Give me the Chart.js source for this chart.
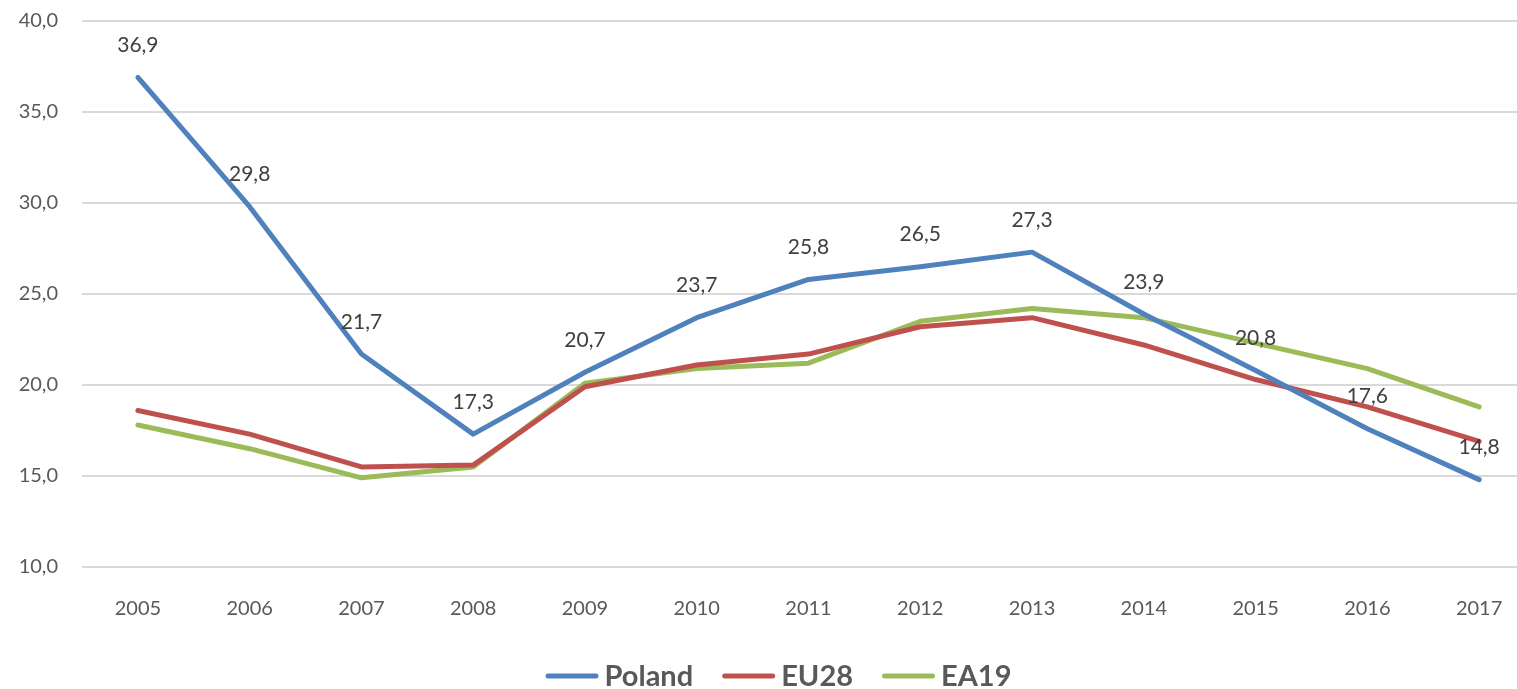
<!DOCTYPE html>
<html>
<head>
<meta charset="utf-8">
<script src="https://cdn.jsdelivr.net/npm/chart.js@4"></script>
<style>
html,body{margin:0;padding:0;background:#fff;overflow:hidden;}
#wrap{position:absolute;left:0;top:-15px;width:1535px;height:704px;}
</style>
</head>
<body>
<div id="wrap"><canvas id="c"></canvas></div>
<script>
const years = ['2005','2006','2007','2008','2009','2010','2011','2012','2013','2014','2015','2016','2017'];
const poland = [36.9,29.8,21.7,17.3,20.7,23.7,25.8,26.5,27.3,23.9,20.8,17.6,14.8];
const eu28 = [18.6,17.3,15.5,15.6,19.9,21.1,21.7,23.2,23.7,22.2,20.3,18.8,16.9];
const ea19 = [17.8,16.5,14.9,15.5,20.1,20.9,21.2,23.5,24.2,23.7,22.3,20.9,18.8];
const seriesNames = ['Poland','EU28','EA19'];
const colors = ['#4F81BD','#C0504D','#9BBB59'];

const fmt = v => v.toFixed(1).replace('.', ',');
const FONT = 'Lato, "Open Sans", sans-serif';

const labelPlugin = {
  id: 'pointLabels',
  afterDatasetsDraw(chart) {
    const ctx = chart.ctx;
    const meta = chart.getDatasetMeta(0);
    ctx.save();
    ctx.font = '21px ' + FONT;
    ctx.fillStyle = '#404040';
    ctx.textAlign = 'center';
    ctx.textBaseline = 'middle';
    meta.data.forEach((pt, i) => {
      ctx.fillText(fmt(poland[i]), pt.x, pt.y - 32);
    });
    ctx.restore();
  }
};

const legendPlugin = {
  id: 'customLegend',
  afterDraw(chart) {
    const ctx = chart.ctx;
    ctx.save();
    ctx.font = 'bold 29px ' + FONT;
    const lineW = 53, gapText = 6, gapItem = 29;
    const widths = seriesNames.map(n => ctx.measureText(n).width);
    let total = widths.reduce((a, w) => a + lineW + gapText + w, 0) + gapItem * (seriesNames.length - 1);
    let x = chart.width / 2 + 11 - total / 2;
    const y = 691;
    ctx.textBaseline = 'middle';
    ctx.textAlign = 'left';
    seriesNames.forEach((n, i) => {
      ctx.strokeStyle = colors[i];
      ctx.lineWidth = 5;
      ctx.lineCap = 'round';
      ctx.beginPath();
      ctx.moveTo(x + 2.5, y);
      ctx.lineTo(x + lineW - 2.5, y);
      ctx.stroke();
      ctx.fillStyle = '#595959';
      ctx.fillText(n, x + lineW + gapText, y + 1);
      x += lineW + gapText + widths[i] + gapItem;
    });
    ctx.restore();
  }
};

const mk = (name, data, color) => ({
  label: name, data: data, borderColor: color, backgroundColor: color,
  borderWidth: 5, pointRadius: 0, tension: 0, borderCapStyle: 'round', borderJoinStyle: 'round'
});

new Chart(document.getElementById('c'), {
  type: 'line',
  data: {
    labels: years,
    datasets: [mk(seriesNames[0], poland, colors[0]), mk(seriesNames[1], eu28, colors[1]), mk(seriesNames[2], ea19, colors[2])]
  },
  plugins: [labelPlugin, legendPlugin],
  options: {
    responsive: true,
    maintainAspectRatio: false,
    animation: false,
    layout: { padding: { top: 0, left: 0, right: 0, bottom: 38 } },
    plugins: {
      tooltip: { enabled: false },
      legend: { display: false }
    },
    scales: {
      x: {
        offset: true,
        grid: { display: false, drawTicks: false },
        border: { display: false },
        ticks: { color: '#595959', padding: 30, font: { family: FONT, size: 20 } }
      },
      y: {
        min: 10, max: 40,
        afterFit: s => { s.width = 82; },
        grid: { color: '#D9D9D9', lineWidth: 2, drawTicks: false },
        border: { display: false },
        ticks: { stepSize: 5, color: '#595959', padding: 24, font: { family: FONT, size: 20 },
          callback: v => fmt(v) }
      }
    }
  }
});
</script>
</body>
</html>
